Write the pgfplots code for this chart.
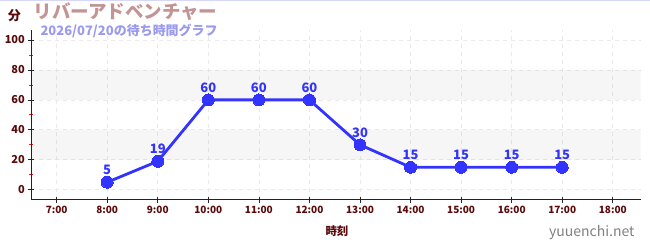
\documentclass[border=0pt]{standalone}
\usepackage{fontspec}
\setmainfont{Noto Sans CJK JP}
\usepackage{pgfplots}
\pgfplotsset{compat=1.18}
\definecolor{axred}{HTML}{5A0A0A}
\definecolor{minred}{HTML}{DD2222}
\definecolor{lineblue}{HTML}{3333FF}
\definecolor{titlecol}{HTML}{C49494}
\definecolor{subcol}{HTML}{9A9AEE}
\definecolor{gridgray}{HTML}{EAEAEA}
\begin{document}
\begin{tikzpicture}
\fill[white] (0,0) rectangle (650pt,250pt);
\draw[color=subcol!40, line width=0.8pt] (0,249.6pt) -- (650pt,249.6pt);
\begin{axis}[
  at={(31pt,50pt)}, anchor=south west,
  scale only axis, width=610pt, height=170pt,
  xmin=6.5, xmax=18.55, ymin=-6.7, ymax=106.7,
  axis x line=bottom, axis y line=left,
  axis line style={-, color=axred, line width=1pt},
  xtick={7,...,18},
  xticklabels={7:00,8:00,9:00,10:00,11:00,12:00,13:00,14:00,15:00,16:00,17:00,18:00},
  ytick={0,20,...,100},
  minor ytick={10,30,...,90},
  tick align=center,
  major tick length=6pt, minor tick length=4pt,
  major tick style={color=black!85, line width=0.7pt},
  minor tick style={color=minred, line width=0.8pt},
  x tick label style={font=\fontsize{10}{11}\selectfont\bfseries, color=axred},
  y tick label style={font=\fontsize{11}{12}\selectfont\bfseries, color=axred},
  /pgf/number format/assume math mode=true,
  grid=major,
  major grid style={dash pattern=on 4pt off 4pt, color=gridgray, line width=0.7pt},
  clip=false,
]
\addplot[draw=none, fill=black, fill opacity=0.035, forget plot]
  coordinates {(6.5,20) (18.55,20) (18.55,40) (6.5,40) (6.5,20)};
\addplot[draw=none, fill=black, fill opacity=0.035, forget plot]
  coordinates {(6.5,60) (18.55,60) (18.55,80) (6.5,80) (6.5,60)};
\addplot[color=lineblue, line width=2.8pt, mark=*, mark size=6pt,
  mark options={fill=lineblue, draw=lineblue, line width=0pt},
  nodes near coords,
  every node near coord/.append style={font=\fontsize{13}{14}\selectfont\bfseries, color=lineblue, yshift=4pt},
] coordinates {
(8,5) (9,19) (10,60) (11,60) (12,60) (13,30) (14,15) (15,15) (16,15) (17,15)
};
\end{axis}
\node[font=\fontsize{13}{14}\selectfont\bfseries, color=axred] at (14pt,234pt) {分};
\node[font=\fontsize{18.5}{20}\selectfont\bfseries, color=titlecol, anchor=west, inner sep=0pt] at (33pt,238pt) {リバーアドベンチャー};
\node[font=\fontsize{13}{14}\selectfont\bfseries, color=subcol, anchor=west, inner sep=0pt] at (40pt,219pt) {2026/07/20の待ち時間グラフ};
\node[font=\fontsize{11.5}{12}\selectfont\bfseries, color=axred] at (337pt,19pt) {時刻};
\node[font=\fontsize{14}{15}\selectfont, color=black!50, anchor=east, inner sep=0pt] at (635pt,17pt) {yuuenchi.net};
\end{tikzpicture}
\end{document}
